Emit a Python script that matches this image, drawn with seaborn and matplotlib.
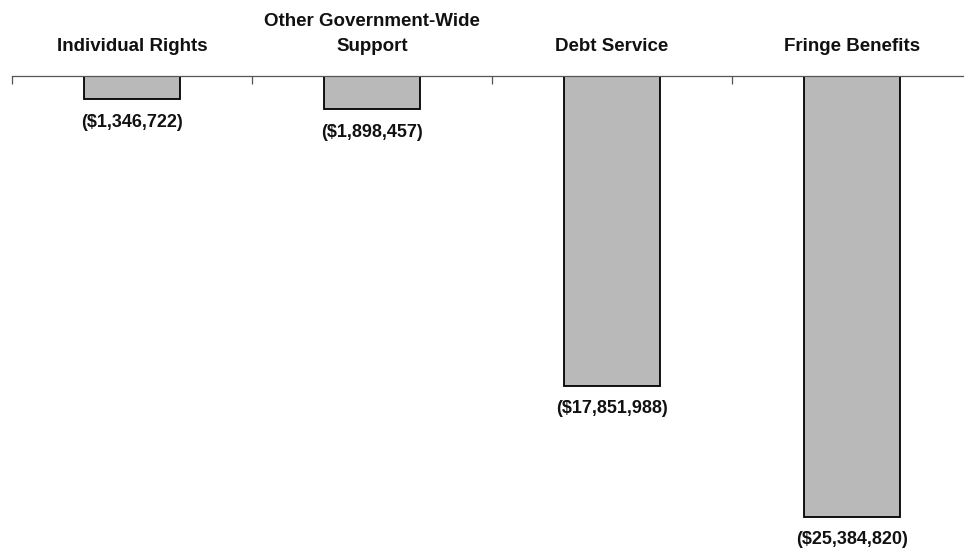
import numpy as np
import pandas as pd
import seaborn as sns
import matplotlib.pyplot as plt

# data
categories = ["Individual Rights", "Other Government-Wide\nSupport", "Debt Service", "Fringe Benefits"]
values = [-1346722, -1898457, -17851988, -25384820]
value_labels = ["($1,346,722)", "($1,898,457)", "($17,851,988)", "($25,384,820)"]

df = pd.DataFrame({"category": categories, "value": values})

sns.set_theme(style="white")
plt.rcParams["font.family"] = ["Liberation Sans", "DejaVu Sans"]

fig = plt.figure(figsize=(9.64, 5.48), dpi=100)
ax = fig.add_axes([12 / 964, 0, 952 / 964, 472 / 548])

sns.barplot(data=df, x="category", y="value", order=categories, width=0.4,
            color="#b9b9b9", edgecolor="black", linewidth=1.3, saturation=1, ax=ax)

# labels under each bar
ax.bar_label(ax.containers[0], labels=value_labels, padding=10.5,
             fontsize=13, fontweight="bold", color="#111111")

ax.set_xlim(-0.5, 3.467)
ax.set_ylim(-27.2e6, 0)

# only the top line with tick marks between the groups
for side in ["left", "right", "bottom"]:
    ax.spines[side].set_visible(False)
ax.spines["top"].set_color("#555555")
ax.spines["top"].set_linewidth(0.9)

ax.xaxis.tick_top()
ax.set_xticks([-0.5, 0.5, 1.5, 2.5])
ax.set_xticklabels([])
ax.set_xticks([0, 1, 2, 3], minor=True)
ax.set_xticklabels(categories, minor=True, fontsize=13.5, fontweight="bold",
                   color="#111111", linespacing=1.6)
ax.tick_params(axis="x", which="major", direction="in", length=6, width=0.9, color="#555555", top=True, bottom=False)
ax.tick_params(axis="x", which="minor", length=0, pad=15, top=True, bottom=False)
ax.set_yticks([])
ax.set_xlabel("")
ax.set_ylabel("")

fig.savefig("out.png", dpi=100)
